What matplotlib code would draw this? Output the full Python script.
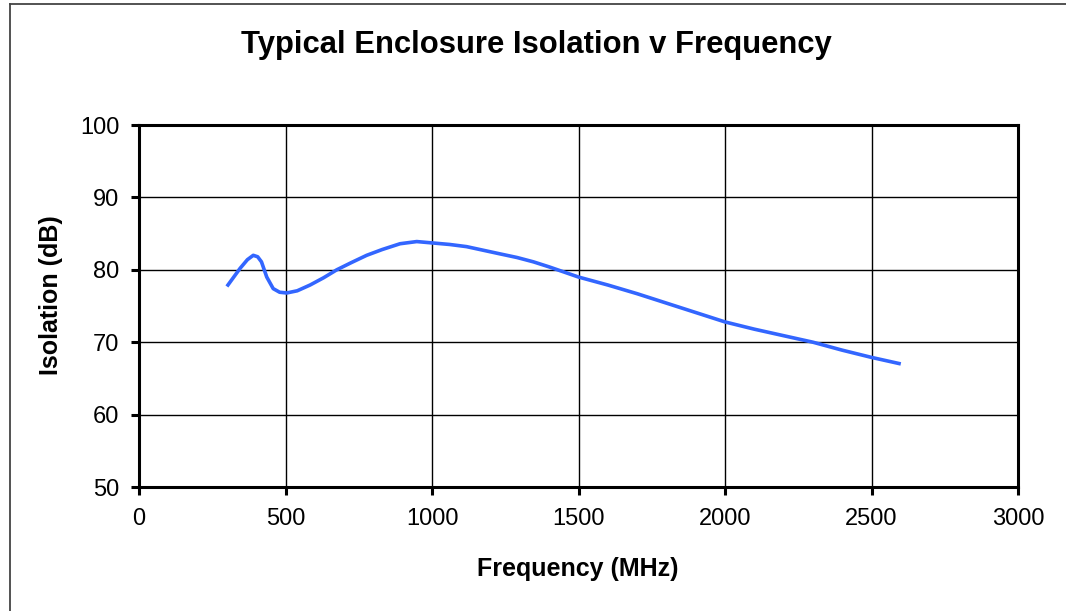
import matplotlib
matplotlib.use('Agg')
import numpy as np
import matplotlib.pyplot as plt
from matplotlib.lines import Line2D

plt.rcParams['font.family'] = ['Liberation Sans', 'DejaVu Sans']

# values
freq_mhz = [300, 345, 370, 390, 405, 418, 436, 458, 480, 504, 540, 584, 630,
            675, 725, 777, 830, 891, 948, 1004, 1060, 1118, 1175, 1232, 1290,
            1346, 1400, 1500, 1600, 1700, 1800, 1900, 2000, 2100, 2200, 2300,
            2400, 2500, 2600]
isolation_db = [77.7, 80.2, 81.4, 82.0, 81.8, 81.1, 79.0, 77.4, 76.9, 76.8,
                77.1, 77.9, 78.9, 80.0, 81.0, 82.0, 82.8, 83.6, 83.9, 83.7,
                83.5, 83.2, 82.7, 82.2, 81.7, 81.1, 80.4, 79.0, 77.9, 76.7,
                75.4, 74.1, 72.8, 71.8, 70.9, 70.0, 68.9, 67.9, 67.0]
x_ticks = [0, 500, 1000, 1500, 2000, 2500, 3000]
y_ticks = [50, 60, 70, 80, 90, 100]

W, H = 1066, 611
fig = plt.figure(figsize=(W / 100, H / 100), dpi=100)
ax = fig.add_axes([139 / W, 1 - 487 / H, (1018 - 139) / W, (487 - 125) / H])

ax.plot(freq_mhz, isolation_db, color='#3366ff', linewidth=2.6,
        solid_capstyle='butt', solid_joinstyle='round', zorder=3)

ax.set_xlim(0, 3000)
ax.set_ylim(50, 100)
ax.set_xticks(x_ticks)
ax.set_yticks(y_ticks)
ax.grid(True, color='black', linewidth=1.0)
ax.set_axisbelow(True)
for s in ax.spines.values():
    s.set_linewidth(2.2)
ax.tick_params(direction='out', length=6, width=2.2, labelsize=17,
               colors='black')
ax.tick_params(axis='x', pad=9)
ax.tick_params(axis='y', pad=8)

fig.text(536 / W, 1 - 45 / H, 'Typical Enclosure Isolation v Frequency',
         ha='center', va='center', fontsize=22.3, fontweight='bold')
fig.text(578 / W, 1 - 569 / H, 'Frequency (MHz)', ha='center',
         va='center', fontsize=18, fontweight='bold')
fig.text(51 / W, 1 - 295 / H, 'Isolation (dB)', ha='center', va='center',
         rotation=90, fontsize=18, fontweight='bold')

# outer chart border (only left and top edges fall inside the image)
fig.add_artist(Line2D([10 / W, 10 / W], [0, 1 - 4 / H], color='#444444',
                      linewidth=1.3, transform=fig.transFigure))
fig.add_artist(Line2D([10 / W, 1], [1 - 4 / H, 1 - 4 / H], color='#444444',
                      linewidth=1.3, transform=fig.transFigure))

fig.savefig('out.png', dpi=100)
